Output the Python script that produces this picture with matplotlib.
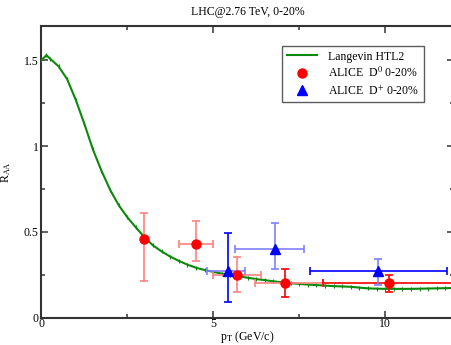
# R_AA of D mesons at LHC 2.76 TeV, 0-20% centrality: Langevin HTL2 curve
# compared with ALICE D0 and D+ data.

import matplotlib.pyplot as plt
from matplotlib.lines import Line2D
from matplotlib.ticker import FormatStrFormatter, MultipleLocator

plt.rcParams["font.family"] = "Liberation Serif"
plt.rcParams["mathtext.fontset"] = "stix"

# Langevin HTL2 curve.
langevin_pt = [0.0, 0.15, 0.25, 0.5, 0.75, 1.0, 1.25, 1.5, 1.75, 2.0, 2.25, 2.5,
               2.75, 3.0, 3.25, 3.5, 3.75, 4.0, 4.25, 4.5, 4.75, 5.0, 5.25, 5.5,
               5.75, 6.0, 6.25, 6.5, 6.75, 7.0, 7.25, 7.5, 7.75, 8.0, 8.25, 8.5,
               8.75, 9.0, 9.25, 9.5, 9.75, 10.0, 10.25, 10.5, 10.75, 11.0, 11.25,
               11.5, 11.75, 12.0]
langevin_raa = [1.50, 1.53, 1.51, 1.465, 1.39, 1.27, 1.13, 0.98, 0.855, 0.745,
                0.655, 0.585, 0.525, 0.468, 0.42, 0.385, 0.355, 0.33, 0.308, 0.29,
                0.277, 0.266, 0.256, 0.247, 0.24, 0.232, 0.224, 0.218, 0.211, 0.205,
                0.20, 0.196, 0.192, 0.189, 0.186, 0.183, 0.181, 0.179, 0.174, 0.17,
                0.168, 0.167, 0.167, 0.167, 0.167, 0.168, 0.169, 0.17, 0.171, 0.172]

# ALICE D0, 0-20%.
d0_pt = [3.0, 4.5, 5.7, 7.1, 10.1]
d0_raa = [0.46, 0.43, 0.25, 0.20, 0.20]
d0_raa_lo = [0.21, 0.33, 0.15, 0.12, 0.15]
d0_raa_hi = [0.61, 0.56, 0.35, 0.28, 0.25]
d0_pt_lo = [3.0, 4.0, 5.0, 6.2, 8.2]
d0_pt_hi = [3.0, 5.0, 6.4, 8.2, 12.5]

# ALICE D+, 0-20%.
dplus_pt = [5.43, 6.8, 9.8]
dplus_raa = [0.27, 0.40, 0.27]
dplus_raa_lo = [0.09, 0.28, 0.19]
dplus_raa_hi = [0.49, 0.55, 0.34]
dplus_pt_lo = [4.82, 5.63, 7.82]
dplus_pt_hi = [5.93, 7.63, 11.8]

fig = plt.figure(figsize=(4.52, 3.45), dpi=100)
ax = fig.add_axes([0.0914, 0.0797, 0.913, 0.845])

green = "#0a8a0a"
light_red = "#ff8080"
light_blue = "#7f7fff"

ax.plot(langevin_pt, langevin_raa, color=green, lw=1.5, marker="|",
        markersize=3, markeredgewidth=0.8, zorder=3)

# Error bars: vertical and horizontal drawn separately, some lighter.
d0_ycol = [light_red, light_red, light_red, "red", "red"]
d0_xcol = [light_red, light_red, light_red, light_red, "red"]
for i in range(len(d0_pt)):
    ax.errorbar(d0_pt[i], d0_raa[i],
                yerr=[[d0_raa[i] - d0_raa_lo[i]], [d0_raa_hi[i] - d0_raa[i]]],
                fmt="none", ecolor=d0_ycol[i], elinewidth=1.2, capsize=3,
                capthick=1.2, zorder=4)
    if d0_pt_hi[i] > d0_pt_lo[i]:
        ax.errorbar(d0_pt[i], d0_raa[i],
                    xerr=[[d0_pt[i] - d0_pt_lo[i]], [d0_pt_hi[i] - d0_pt[i]]],
                    fmt="none", ecolor=d0_xcol[i], elinewidth=1.2, capsize=3,
                    capthick=1.2, zorder=4)

dplus_ycol = ["blue", light_blue, light_blue]
dplus_xcol = [light_blue, light_blue, "blue"]
for i in range(len(dplus_pt)):
    ax.errorbar(dplus_pt[i], dplus_raa[i],
                yerr=[[dplus_raa[i] - dplus_raa_lo[i]],
                      [dplus_raa_hi[i] - dplus_raa[i]]],
                fmt="none", ecolor=dplus_ycol[i], elinewidth=1.2, capsize=3,
                capthick=1.2, zorder=4)
    ax.errorbar(dplus_pt[i], dplus_raa[i],
                xerr=[[dplus_pt[i] - dplus_pt_lo[i]],
                      [dplus_pt_hi[i] - dplus_pt[i]]],
                fmt="none", ecolor=dplus_xcol[i], elinewidth=1.2, capsize=3,
                capthick=1.2, zorder=4)

ax.plot(d0_pt, d0_raa, "o", color="red", markersize=6.5, linestyle="none",
        zorder=5)
ax.plot(dplus_pt, dplus_raa, "^", color="blue", markersize=6.5,
        linestyle="none", zorder=5)

ax.set_xlim(0, 12)
ax.set_ylim(0, 1.7)
ax.xaxis.set_major_locator(MultipleLocator(5))
ax.xaxis.set_minor_locator(MultipleLocator(2.5))
ax.yaxis.set_major_locator(MultipleLocator(0.5))
ax.yaxis.set_minor_locator(MultipleLocator(0.25))
ax.xaxis.set_major_formatter(FormatStrFormatter("%g"))
ax.yaxis.set_major_formatter(FormatStrFormatter("%g"))
ax.tick_params(which="both", direction="in", top=True, right=True,
               color="#444444", labelsize=8.5, pad=2)
ax.tick_params(axis="x", which="both", pad=0.5)
ax.tick_params(which="major", length=5, width=1.2)
ax.tick_params(which="minor", length=3, width=1.2)
for side in ["left", "bottom", "top"]:
    ax.spines[side].set_linewidth(1.5)
    ax.spines[side].set_color("#333333")
ax.spines["right"].set_visible(False)

ax.set_title("LHC@2.76 TeV, 0-20%", fontsize=8.5, pad=8)
ax.set_xlabel(r"p$_{\rm T}$ (GeV/c)", fontsize=8.5, labelpad=-1)
ax.set_ylabel(r"R$_{\rm AA}$", fontsize=8.5, labelpad=8)

handles = [
    Line2D([], [], color=green, lw=1.5),
    Line2D([], [], color="red", marker="o", markersize=6.5, linestyle="none"),
    Line2D([], [], color="blue", marker="^", markersize=6.5, linestyle="none"),
]
labels = ["Langevin HTL2", r"ALICE  D$^{0}$ 0-20%", r"ALICE  D$^{+}$ 0-20%"]
leg = ax.legend(handles, labels, loc="upper right",
                bbox_to_anchor=(0.927, 0.932), borderaxespad=0, fontsize=8.5,
                frameon=True, fancybox=False, handlelength=2.6,
                handletextpad=0.9, labelspacing=0.3, borderpad=0.4)
leg.get_frame().set_edgecolor("#333333")
leg.get_frame().set_linewidth(1.0)

fig.savefig("out.png", dpi=100)
